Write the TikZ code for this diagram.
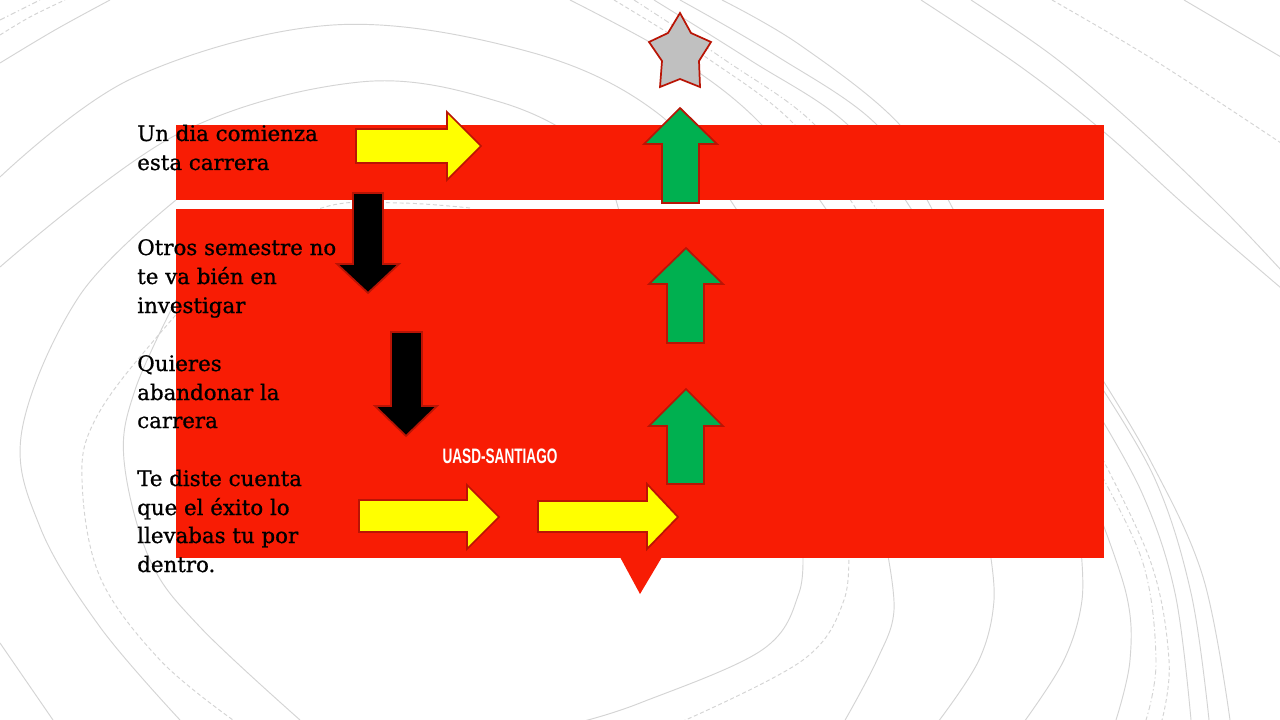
\documentclass[tikz,border=0pt]{standalone}
\usepackage{fontspec}
\usepackage{graphicx}
\setmainfont{DejaVu Serif}[FakeBold=0.8]
\newfontfamily\uasdfont{Liberation Sans}[BoldFont={Liberation Sans Bold}]
\definecolor{slidered}{RGB}{248,28,4}
\definecolor{edgered}{RGB}{185,20,5}
\definecolor{arrowyellow}{RGB}{255,255,0}
\definecolor{arrowgreen}{RGB}{0,176,80}
\definecolor{stargray}{RGB}{192,192,192}
\definecolor{bgline}{RGB}{212,212,212}
\tikzset{
  bg/.style={draw=bgline, line width=0.7pt},
  bgdash/.style={draw=bgline, line width=0.7pt, dash pattern=on 3pt off 2pt},
  bgdashdot/.style={draw=bgline, line width=0.7pt, dash pattern=on 4pt off 2pt on 1pt off 2pt},
  redbox/.style={fill=slidered, draw=none},
  shapeedge/.style={draw=edgered, line width=1.3pt, line join=miter},
  yelarrow/.style={shapeedge, fill=arrowyellow},
  blkarrow/.style={shapeedge, fill=black},
  grnarrow/.style={shapeedge, fill=arrowgreen},
  starshape/.style={shapeedge, fill=stargray},
  txt/.style={anchor=base west, inner sep=0pt, text=black, font=\fontsize{16}{19}\selectfont},
  label/.style={inner sep=0pt, text=white, font=\uasdfont\bfseries\fontsize{15.7}{18}\selectfont}
}
\begin{document}
\begin{tikzpicture}[x=0.75pt,y=-0.75pt]
\useasboundingbox (0,0) rectangle (1280,720);
\fill[white] (0,0) rectangle (1280,720);

% ---- background decorative curves ----
\begin{scope}[smooth, tension=0.6]
\draw[bg] plot coordinates {(0,63) (55,30) (110,0)};
\draw[bgdash] plot coordinates {(0,35) (30,17) (65,0)};
\draw[bgdashdot] plot coordinates {(0,20) (40,0)};
\draw[bg] plot coordinates {(0,177) (133,78) (333,25) (530,52) (660,115) (740,215)};
\draw[bg] plot coordinates {(0,267) (176,135) (360,82) (500,102) (590,150) (620,215)};
\draw[bg] plot coordinates {(176,200) (80,295) (22,430) (40,527) (100,627) (180,720)};
\draw[bgdash] plot coordinates {(470,208) (400,203) (325,207) (240,250) (150,345) (95,420) (82,480) (100,577) (160,660) (233,720)};
\draw[bg] plot coordinates {(176,300) (135,390) (124,460) (150,560) (200,627) (300,720)};
\draw[bg] plot coordinates {(0,643) (53,720)};
% near star
\draw[bg] plot coordinates {(570,0) (680,60) (762,125) (830,215)};
\draw[bgdash] plot coordinates {(614,0) (710,60) (795,125) (860,215)};
\draw[bgdashdot] plot coordinates {(634,0) (725,60) (815,125) (880,215)};
\draw[bg] plot coordinates {(654,0) (750,60) (848,125) (915,215)};
\draw[bg] plot coordinates {(680,0) (775,55) (877,125) (935,215)};
\draw[bg] plot coordinates {(722,0) (800,45) (900,125) (956,215)};
% top right
\draw[bg] plot coordinates {(921,0) (1021,67) (1104,132) (1187,207) (1281,288)};
\draw[bg] plot coordinates {(971,0) (1054,57) (1137,127) (1221,207) (1281,270)};
\draw[bgdash] plot coordinates {(1052,0) (1154,60) (1281,143)};
\draw[bg] plot coordinates {(1184,0) (1281,57)};
% right side
\draw[bg] plot coordinates {(1090,360) (1150,460) (1203,577) (1230,720)};
\draw[bg] plot coordinates {(1090,370) (1154,477) (1191,593) (1209,720)};
\draw[bg] plot coordinates {(1090,400) (1142,493) (1175,593) (1191,720)};
\draw[bgdash] plot coordinates {(1090,435) (1150,560) (1169,660) (1162,720)};
\draw[bgdashdot] plot coordinates {(1090,455) (1142,560) (1156,660) (1146,720)};
\draw[bg] plot coordinates {(1090,490) (1126,593) (1130,660) (1116,720)};
% bottom
\draw[bg] plot coordinates {(802,540) (799,593) (762,650) (640,703) (580,722)};
\draw[bgdash] plot coordinates {(848,540) (844,600) (803,660) (681,722)};
\draw[bg] plot coordinates {(885,540) (894,610) (877,660) (844,722)};
\draw[bg] plot coordinates {(988,540) (994,600) (979,660) (938,722)};
\draw[bg] plot coordinates {(1080,540) (1082,600) (1064,660) (1024,722)};
\end{scope}

% ---- red panels ----
\path[redbox] (176,125) rectangle (1104,200);
\path[redbox] (176,209) rectangle (1104,558);
\path[redbox] (620,557) -- (662,557) -- (640,594) -- cycle;

% ---- text ----
\node[txt] (l1) at (137,141) {Un dia comienza};
\node[txt] (l2) at (137,170) {esta carrera};
\node[txt] (l3) at (137,255) {Otros semestre no};
\node[txt] (l4) at (137,284) {te va bién en};
\node[txt] (l5) at (137,313) {investigar};
\node[txt] (l6) at (137,371) {Quieres};
\node[txt] (l7) at (137,400) {abandonar la};
\node[txt] (l8) at (137,428) {carrera};
\node[txt] (l9) at (137,486) {Te diste cuenta};
\node[txt] (l10) at (137,515) {que el éxito lo};
\node[txt] (l11) at (137,543) {llevabas tu por};
\node[txt] (l12) at (137,572) {dentro.};

\node[label] (uasd) at (500,456) {\scalebox{0.65}[1]{UASD-SANTIAGO}};

% ---- arrows ----
\path[yelarrow] (356,129) -- (447,129) -- (447,112) -- (481,146) -- (447,180) -- (447,163) -- (356,163) -- cycle;
\path[yelarrow] (359,500) -- (467,500) -- (467,485) -- (499,517) -- (467,549) -- (467,532) -- (359,532) -- cycle;
\path[yelarrow] (538,501) -- (647,501) -- (647,484) -- (678,517) -- (647,549) -- (647,532) -- (538,532) -- cycle;

\path[blkarrow] (353,193) -- (383,193) -- (383,264) -- (399,264) -- (368,293) -- (337,264) -- (353,264) -- cycle;
\path[blkarrow] (391,332) -- (422,332) -- (422,406) -- (437,406) -- (406,436) -- (375,406) -- (391,406) -- cycle;

\path[grnarrow] (662,203) -- (662,144) -- (644,144) -- (680,108) -- (717,144) -- (699,144) -- (699,203) -- cycle;
\path[grnarrow] (667,343) -- (667,284) -- (649,284) -- (686,248) -- (723,284) -- (704,284) -- (704,343) -- cycle;
\path[grnarrow] (667,484) -- (667,426) -- (649,426) -- (686,389) -- (723,426) -- (704,426) -- (704,484) -- cycle;

% ---- star ----
\path[starshape] (680,13) -- (691,33) -- (711,42) -- (699,61) -- (700,87) -- (680,79) -- (660,87) -- (662,61) -- (649,42) -- (668,33) -- cycle;
\end{tikzpicture}
\end{document}
